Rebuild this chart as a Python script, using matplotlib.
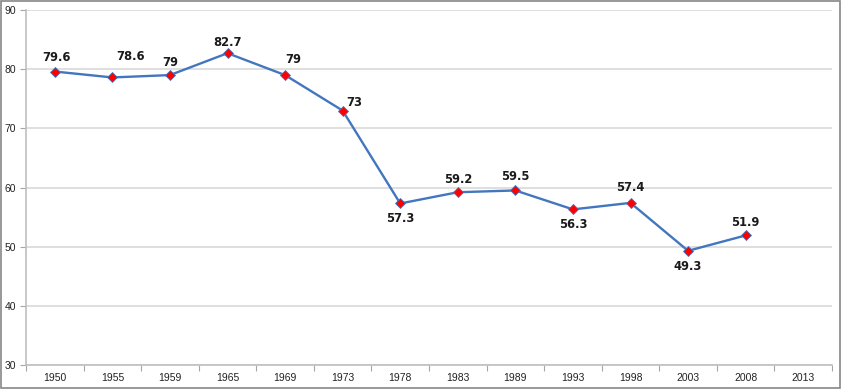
import numpy as np
import matplotlib
matplotlib.use("Agg")
from matplotlib import pyplot as plt
from matplotlib.patches import Rectangle

years = ["1950", "1955", "1959", "1965", "1969", "1973", "1978", "1983",
         "1989", "1993", "1998", "2003", "2008", "2013"]
values = [79.6, 78.6, 79, 82.7, 79, 73, 57.3, 59.2, 59.5, 56.3, 57.4, 49.3, 51.9]

# label offsets in points (dx, dy) roughly like the Excel original
label_offsets = [(1, 10), (13, 15), (0, 9), (0, 8), (6, 11), (8, 6), (0, -11),
                 (0, 9), (0, 10), (0, -11), (0, 11), (0, -11), (0, 9)]

LINE = "#4276BE"
GRID = "#D9D9D9"

fig = plt.figure(figsize=(8.42, 3.89), dpi=100)
ax = fig.add_axes([26 / 842, 24 / 389, 806 / 842, 355 / 389])

x = np.arange(len(values))
ax.plot(x, values, color=LINE, lw=1.7, zorder=3)
ax.plot(x, values, ls="none", marker="D", ms=5, mfc="#FF0000",
        mec=LINE, mew=0.6, zorder=4)

for xi, v, (dx, dy) in zip(x, values, label_offsets):
    ax.annotate(f"{v:g}", (xi, v), xytext=(dx, dy), textcoords="offset points",
                ha="center", va="center", fontsize=8.3, fontweight="bold",
                family="DejaVu Sans", color="#1a1a1a")

ax.set_xlim(-0.5, len(years) - 0.5)
ax.set_ylim(30, 90)
ax.set_yticks(range(30, 91, 10))
ax.set_xticks(np.arange(len(years)))
ax.set_xticklabels(years)
ax.set_xticks(np.arange(len(years) + 1) - 0.5, minor=True)
ax.tick_params(axis="x", which="major", length=0, pad=6, labelsize=7.5,
               labelcolor="#222222")
ax.tick_params(axis="x", which="minor", length=4, color="#A6A6A6", width=0.8)
ax.tick_params(axis="y", length=4, color="#A6A6A6", width=0.8, labelsize=7.5,
               labelcolor="#222222", pad=3)
for lbl in ax.get_xticklabels() + ax.get_yticklabels():
    lbl.set_family("Liberation Sans")

ax.yaxis.grid(True, color=GRID, lw=1.2)
ax.set_axisbelow(True)
for s in ["top", "right"]:
    ax.spines[s].set_visible(False)
for s in ["left", "bottom"]:
    ax.spines[s].set_color("#BFBFBF")
    ax.spines[s].set_linewidth(1.2)

fig.patches.append(Rectangle((0.001, 0.002), 0.997, 0.995, transform=fig.transFigure,
                             fill=False, ec="#868686", lw=1.2))

fig.savefig("out.png", dpi=100)
